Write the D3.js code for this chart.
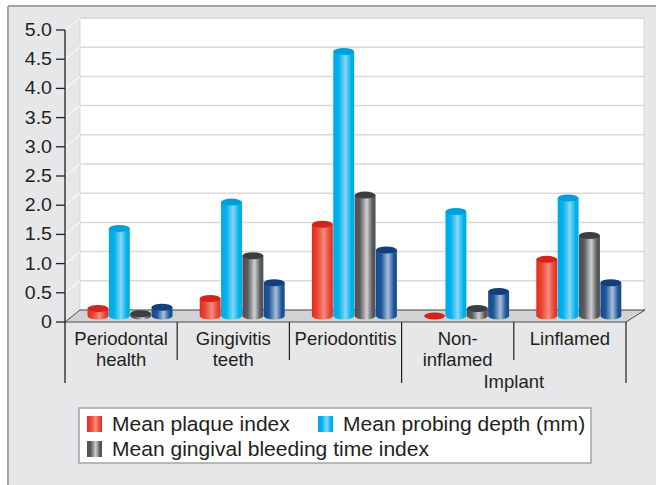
<!DOCTYPE html>
<html>
<head>
<meta charset="utf-8">
<script src="https://cdn.jsdelivr.net/npm/d3@7"></script>
<style>
  body { margin: 0; background: #fff; }
  text { font-family: "Liberation Sans", Arial, sans-serif; fill: #231f20; }
</style>
</head>
<body>
<div id="chart"></div>
<script>

// data
var categories = ["Periodontal health", "Gingivitis teeth", "Periodontitis", "Non-inflamed", "Linflamed"];
var categoryLines = [["Periodontal", "health"], ["Gingivitis", "teeth"], ["Periodontitis"], ["Non-", "inflamed"], ["Linflamed"]];
var groupNames = ["", "Implant"];
var groupSpans = [[0, 2], [3, 4]];
var seriesNames = ["Mean plaque index", "Mean probing depth (mm)", "Mean gingival bleeding time index", "Series 4"];
var plaque = [0.13, 0.30, 1.57, 0.00, 0.97];
var probing = [1.50, 1.95, 4.53, 1.79, 2.02];
var bleeding = [0.04, 1.03, 2.07, 0.13, 1.38];
var series4 = [0.15, 0.57, 1.13, 0.42, 0.57];
var yTicks = [0, 0.5, 1, 1.5, 2, 2.5, 3, 3.5, 4, 4.5, 5];

var allSeries = [plaque, probing, bleeding, series4];

// colours: [left, highlight, right, top]
var colors = [
  ["#e32b20", "#f58d7c", "#ea4431", "#d5231a"],
  ["#00a9e6", "#86d6f4", "#00b2ec", "#009fdc"],
  ["#4e4f52", "#cfd0d2", "#5a5b5e", "#3c3d40"],
  ["#174b8c", "#a9bfda", "#1d5699", "#143f78"]
];

var W = 656, H = 485;
var left = 65, right = 626, base = 322;
var dx = 15, dy = 12; // depth of the 3d box

var svg = d3.select("#chart").append("svg")
  .attr("width", W).attr("height", H);

// scales
var x0 = d3.scaleBand().domain(categories).range([left, right]);
var x1 = d3.scaleBand().domain(d3.range(allSeries.length)).range([15, 100]).paddingInner(0.02);
var y = d3.scaleLinear().domain([0, 5]).range([base, 30]);

// gradients
var defs = svg.append("defs");
colors.forEach(function(c, i) {
  var g = defs.append("linearGradient").attr("id", "grad" + i)
    .attr("x1", "0%").attr("x2", "100%").attr("y1", "0%").attr("y2", "0%");
  g.append("stop").attr("offset", "0%").attr("stop-color", c[0]);
  g.append("stop").attr("offset", "25%").attr("stop-color", c[2]);
  g.append("stop").attr("offset", "58%").attr("stop-color", c[1]);
  g.append("stop").attr("offset", "85%").attr("stop-color", c[2]);
  g.append("stop").attr("offset", "100%").attr("stop-color", c[0]);
});

// background panel
svg.append("rect").attr("x", 8).attr("y", 6).attr("width", W).attr("height", H)
  .attr("fill", "#e6e7e8");
svg.append("line").attr("x1", 8).attr("x2", W).attr("y1", 6).attr("y2", 6)
  .attr("stroke", "#a2a4a7").attr("stroke-width", 2);
svg.append("line").attr("x1", 8).attr("x2", 8).attr("y1", 6).attr("y2", H)
  .attr("stroke", "#a2a4a7").attr("stroke-width", 2);

// back wall
svg.append("rect")
  .attr("x", left + dx).attr("y", y(5) - dy)
  .attr("width", right + dx + 3 - left - dx).attr("height", base - y(5))
  .attr("fill", "#fff").attr("stroke", "#d6d7d9").attr("stroke-width", 1);

// gridlines on wall and side
var grid = svg.append("g");
yTicks.filter(function(d) { return d > 0; }).forEach(function(t) {
  grid.append("line")
    .attr("x1", left + dx).attr("x2", right + dx + 3)
    .attr("y1", y(t) - dy).attr("y2", y(t) - dy)
    .attr("stroke", "#d9dadc").attr("stroke-width", 1.5);
  grid.append("line")
    .attr("x1", left).attr("x2", left + dx)
    .attr("y1", y(t)).attr("y2", y(t) - dy)
    .attr("stroke", "#f5f5f5").attr("stroke-width", 1.5);
});

// floor
svg.append("path")
  .attr("d", "M" + left + "," + base + "L" + (left + dx) + "," + (base - dy) +
    "L" + (right + dx + 4) + "," + (base - dy) + "L" + right + "," + base + "Z")
  .attr("fill", "#d1d2d4").attr("stroke", "#3a3a3a").attr("stroke-width", 0.9);

// bars (cylinders)
var ry = 3.5;
var cat = svg.selectAll("g.cat").data(categories).enter().append("g")
  .attr("class", "cat")
  .attr("transform", function(d) { return "translate(" + (x0(d) + dx / 2) + "," + (-dy / 2) + ")"; });

allSeries.forEach(function(vals, si) {
  var w = x1.bandwidth();
  cat.each(function(c, ci) {
    var g = d3.select(this);
    var bx = x1(si), top = y(vals[ci]), bot = y(0);
    if (bot - top > 0.5) {
      g.append("path")
        .attr("d", "M" + bx + "," + top + "L" + bx + "," + bot +
          "A" + (w / 2) + "," + ry + " 0 0 0 " + (bx + w) + "," + bot +
          "L" + (bx + w) + "," + top + "Z")
        .attr("fill", "url(#grad" + si + ")");
    }
    g.append("ellipse")
      .attr("cx", bx + w / 2).attr("cy", top)
      .attr("rx", w / 2).attr("ry", ry)
      .attr("fill", colors[si][3]);
  });
});

// y axis
svg.append("line").attr("x1", left).attr("x2", left).attr("y1", y(5)).attr("y2", 383)
  .attr("stroke", "#231f20").attr("stroke-width", 1.3);
var ticks = svg.append("g");
yTicks.forEach(function(t) {
  ticks.append("line").attr("x1", left - 9).attr("x2", left)
    .attr("y1", y(t)).attr("y2", y(t))
    .attr("stroke", "#231f20").attr("stroke-width", 1.3);
  ticks.append("text")
    .attr("transform", "translate(52," + (y(t) + 6) + ") scale(1.12,1)")
    .attr("text-anchor", "end").attr("font-size", 17.5)
    .text(t === 0 ? "0" : t.toFixed(1));
});

// category separators and labels
var sepX = [x0(categories[1]), x0(categories[2]), x0(categories[4])];
sepX.forEach(function(sx) {
  svg.append("line").attr("x1", sx).attr("x2", sx).attr("y1", base).attr("y2", 360)
    .attr("stroke", "#231f20").attr("stroke-width", 1.2);
});
[x0(categories[3]), right].forEach(function(sx) {
  svg.append("line").attr("x1", sx).attr("x2", sx).attr("y1", base).attr("y2", 383)
    .attr("stroke", "#231f20").attr("stroke-width", 1.2);
});
categoryLines.forEach(function(lines, i) {
  var cx = x0(categories[i]) + x0.bandwidth() / 2;
  lines.forEach(function(l, j) {
    svg.append("text").attr("x", cx).attr("y", 345 + j * 21)
      .attr("text-anchor", "middle").attr("font-size", 18.5).text(l);
  });
});
groupNames.forEach(function(n, i) {
  if (!n) return;
  var a = x0(categories[groupSpans[i][0]]);
  var b = x0(categories[groupSpans[i][1]]) + x0.bandwidth();
  svg.append("text").attr("x", (a + b) / 2).attr("y", 388)
    .attr("text-anchor", "middle").attr("font-size", 18.5).text(n);
});

// legend
var legend = svg.append("g");
legend.append("rect").attr("x", 79).attr("y", 408).attr("width", 512).attr("height", 55)
  .attr("fill", "#fff").attr("stroke", "#a2a4a7").attr("stroke-width", 1.5);
var legPos = [[87, 416], [318, 416], [87, 441]];
legPos.forEach(function(p, i) {
  legend.append("rect").attr("x", p[0]).attr("y", p[1]).attr("width", 15).attr("height", 16)
    .attr("fill", "url(#grad" + i + ")");
  legend.append("text")
    .attr("transform", "translate(" + (p[0] + 25) + "," + (p[1] + 15) + ") scale(1.08,1)")
    .attr("font-size", 19.5).text(seriesNames[i]);
});

</script>
</body>
</html>
